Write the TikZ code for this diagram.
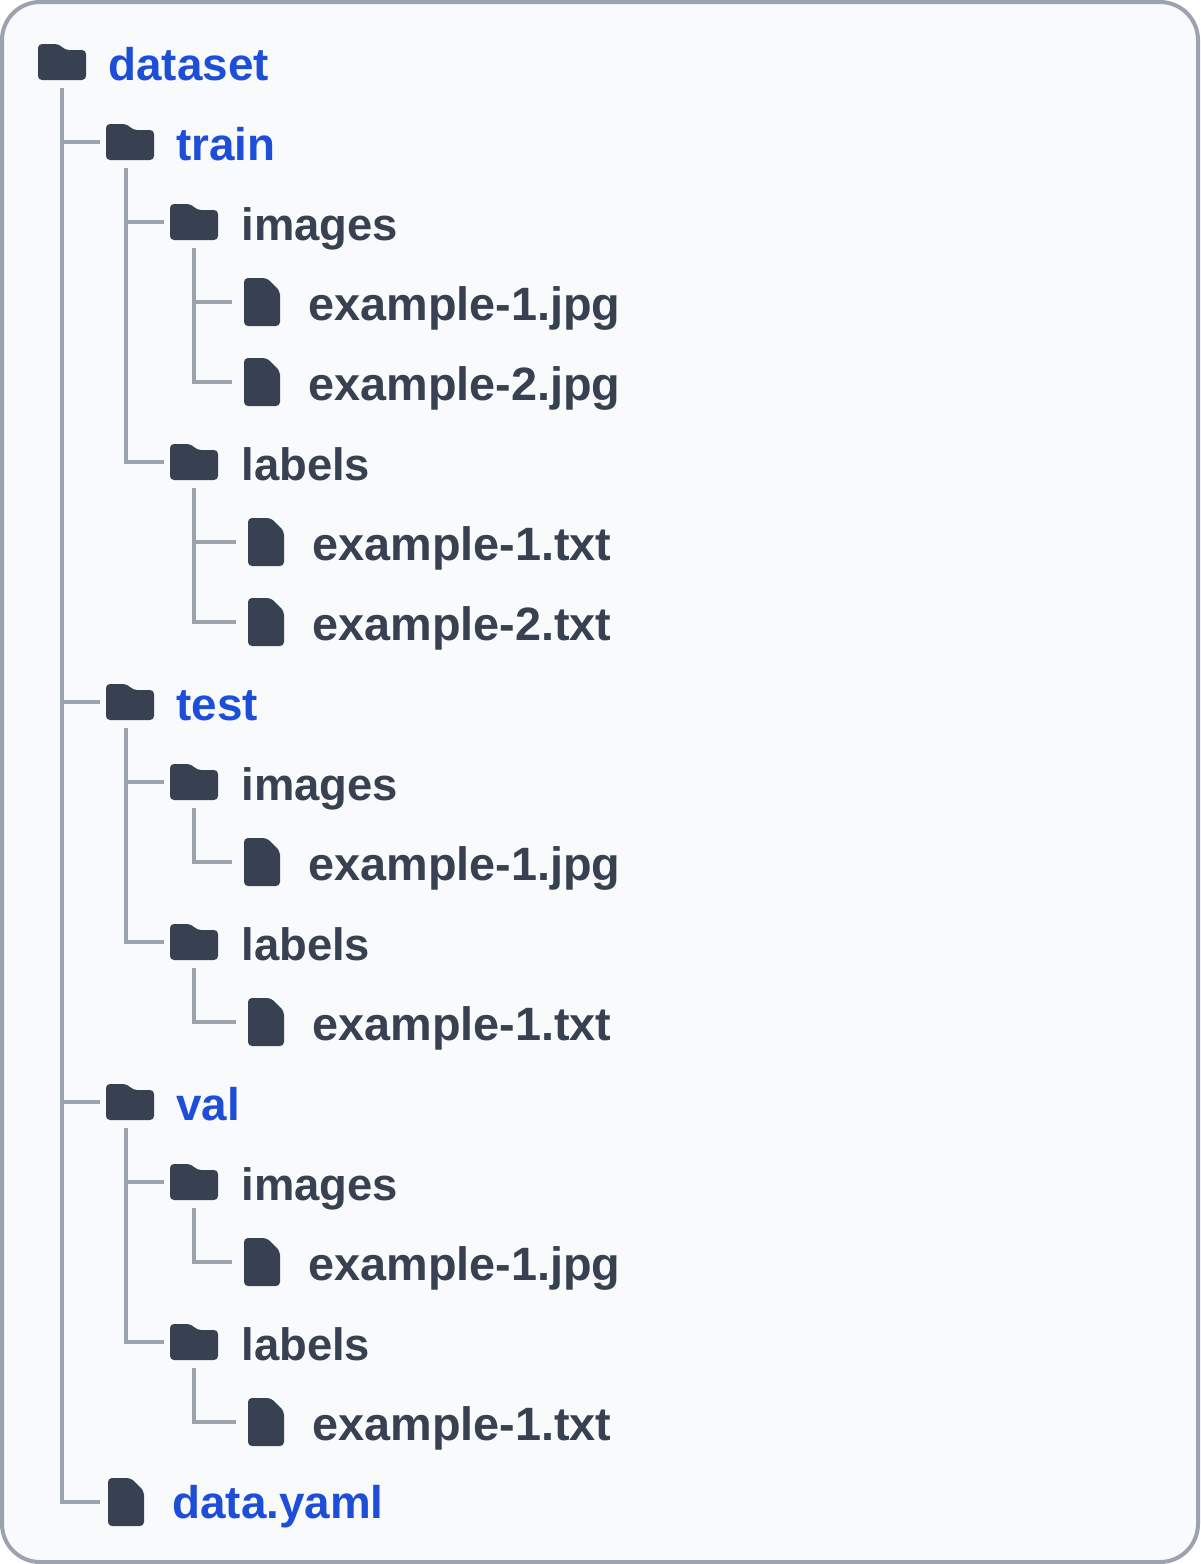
\documentclass[tikz,border=0pt]{standalone}
\usepackage{fontspec}
\setmainfont{Liberation Sans}
\definecolor{cardfill}{HTML}{F9FAFB}
\definecolor{cardline}{HTML}{9CA3AF}
\definecolor{icondark}{HTML}{374151}
\definecolor{linkblue}{HTML}{1D4ED8}
\tikzset{
  iconbox/.style={inner sep=0pt,outer sep=0pt,minimum size=24pt},
  foldericon/.style={iconbox,path picture={
      \fill[icondark,rounded corners=2pt,shift={(path picture bounding box.center)}]
        (-24,-18) -- (-3,-18) -- (3,-12) -- (24,-12) -- (24,18) -- (-24,18) -- cycle;}},
  fileicon/.style={iconbox,path picture={
      \fill[icondark,rounded corners=2pt,shift={(path picture bounding box.center)}]
        (-18,-24) -- (5,-24) -- (18,-11) -- (18,24) -- (-18,24) -- cycle;}},
  treeline/.style={draw=cardline,line width=2pt},
  namelabel/.style={inner sep=0pt,anchor=base west},
  dirlabel/.style={namelabel,text=icondark,font=\bfseries\fontsize{22.7pt}{28pt}\selectfont},
  filelabel/.style={namelabel,text=icondark,font=\bfseries\fontsize{23.4pt}{28pt}\selectfont},
  toplabel/.style={namelabel,text=linkblue,font=\bfseries\fontsize{22.9pt}{28pt}\selectfont}
}
\begin{document}
\begin{tikzpicture}[x=0.5pt,y=-0.5pt]
      \useasboundingbox (0,0) rectangle (1200,1564);
      \draw[fill=cardfill,draw=cardline,line width=2pt,rounded corners=19pt] (2,2) rectangle (1198,1562);

      %%%%%%%%%%%%%%%%%%%%%%%%%%%%%%%%%%%%%%%%%%%%%%%%%%%%%%%%%%%%%%%%%%%%%%%%%%%
      %%%%  Folders
      \foreach \name/\x/\y in {dataset/62/62,train/130/142,trainimg/194/222,trainlab/194/462,
        test/130/702,testimg/194/782,testlab/194/942,
        val/130/1102,valimg/194/1182,vallab/194/1342}
       {\node[foldericon] (\name) at (\x,\y) {};};

      %%%%%%%%%%%%%%%%%%%%%%%%%%%%%%%%%%%%%%%%%%%%%%%%%%%%%%%%%%%%%%%%%%%%%%%%%%%
      %%%%  Files
      \foreach \name/\x/\y in {trainimgone/262/302,trainimgtwo/262/382,trainlabone/266/542,trainlabtwo/266/622,
        testimgone/262/862,testlabone/266/1022,
        valimgone/262/1262,vallabone/266/1422,yaml/126/1502}
       {\node[fileicon] (\name) at (\x,\y) {};};

      %%%%%%%%%%%%%%%%%%%%%%%%%%%%%%%%%%%%%%%%%%%%%%%%%%%%%%%%%%%%%%%%%%%%%%%%%%%
      %%%%  Labels
      \foreach \name/\x/\y/\txt in {dataset/108/80/dataset,train/176/160/train,test/176/720/test,
        val/176/1120/val,yaml/172/1518/data.yaml}
       {\node[toplabel] (\name text) at (\x,\y) {\txt};};
      \foreach \name/\x/\y/\txt in {trainimg/241/240/images,trainlab/241/480/labels,
        testimg/241/800/images,testlab/241/960/labels,
        valimg/241/1200/images,vallab/241/1360/labels}
       {\node[dirlabel] (\name text) at (\x,\y) {\txt};};
      \foreach \name/\x/\y/\txt in {trainimgone/308/320/example-1.jpg,trainimgtwo/308/400/example-2.jpg,
        trainlabone/312/560/example-1.txt,trainlabtwo/312/640/example-2.txt,
        testimgone/308/880/example-1.jpg,testlabone/312/1040/example-1.txt,
        valimgone/308/1280/example-1.jpg,vallabone/312/1440/example-1.txt}
       {\node[filelabel] (\name text) at (\x,\y) {\txt};};

      %%%%%%%%%%%%%%%%%%%%%%%%%%%%%%%%%%%%%%%%%%%%%%%%%%%%%%%%%%%%%%%%%%%%%%%%%%%
      %%%%  Connectors
      \foreach \from/\to/\dx/\gap in {dataset/train/0/3,dataset/test/0/3,dataset/val/0/3,dataset/yaml/0/1,
        train/trainimg/-2/3,train/trainlab/-2/3,
        trainimg/trainimgone/0/3,trainimg/trainimgtwo/0/3,
        trainlab/trainlabone/0/3,trainlab/trainlabtwo/0/3,
        test/testimg/-2/3,test/testlab/-2/3,
        testimg/testimgone/0/3,testlab/testlabone/0/3,
        val/valimg/-2/3,val/vallab/-2/3,
        valimg/valimgone/0/3,vallab/vallabone/0/3}
       {\draw[treeline] ([shift={(\dx pt,-1pt)}]\from.south) |- ([xshift=-\gap pt]\to.west);};
    \end{tikzpicture}
\end{document}
